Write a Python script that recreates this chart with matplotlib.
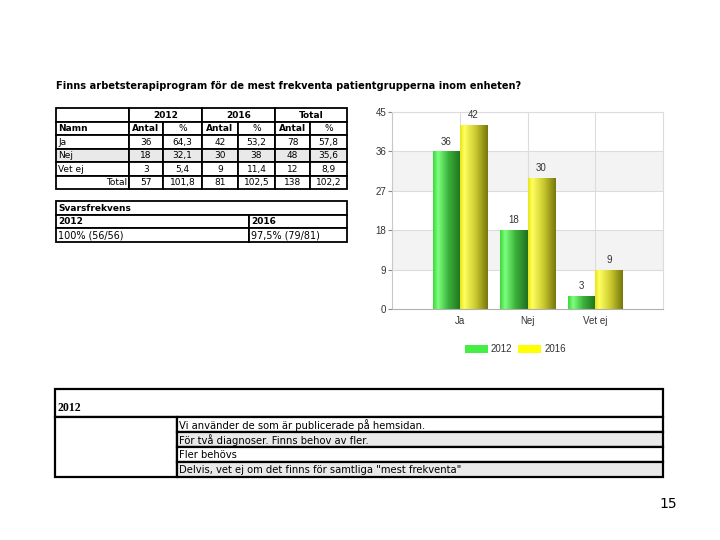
import matplotlib
matplotlib.use('Agg')
import matplotlib.pyplot as plt
from matplotlib.patches import Rectangle, Patch
from matplotlib.colors import LinearSegmentedColormap
import numpy as np

# --- data ---
title = 'Finns arbetsterapiprogram för de mest frekventa patientgrupperna inom enheten?'
categories = ['Ja', 'Nej', 'Vet ej']
years = ['2012', '2016']
antal_2012 = [36, 18, 3]
antal_2016 = [42, 30, 9]
pct_2012 = ['64,3', '32,1', '5,4']
pct_2016 = ['53,2', '38', '11,4']
antal_total = [78, 48, 12]
pct_total = ['57,8', '35,6', '8,9']
sum_row = ['57', '101,8', '81', '102,5', '138', '102,2']
svars_2012 = '100% (56/56)'
svars_2016 = '97,5% (79/81)'
comments_2012 = [
    'Vi använder de som är publicerade på hemsidan.',
    'För två diagnoser. Finns behov av fler.',
    'Fler behövs',
    'Delvis, vet ej om det finns för samtliga "mest frekventa"',
]
y_ticks = [0, 9, 18, 27, 36, 45]
page_number = '15'

TXT = dict(family='DejaVu Sans', fontsize=6.5, color='black')
GRAY_ROW = '#e9e9e9'

fig = plt.figure(figsize=(7.2, 5.4), dpi=100, facecolor='white')

# full-page axes in pixel coordinates for the html-like tables
page = fig.add_axes([0, 0, 1, 1])
page.set_xlim(0, 720)
page.set_ylim(540, 0)
page.axis('off')


def cell(x0, x1, y0, y1, text='', ha='center', bold=False, bg='white', lw=1.3, **kw):
    page.add_patch(Rectangle((x0, y0), x1 - x0, y1 - y0, facecolor=bg,
                             edgecolor='black', lw=lw))
    if not text:
        return
    tx = {'center': (x0 + x1) / 2, 'left': x0 + 2, 'right': x1 - 2}[ha]
    style = dict(TXT)
    style.update(kw)
    page.text(tx, (y0 + y1) / 2 + 0.5, text, ha=ha, va='center',
              fontweight='bold' if bold else 'normal', **style)


page.text(56, 86, title, fontsize=7.1, fontweight='bold', va='center',
          family='DejaVu Sans')

# main table
cols = [56, 129, 163, 202, 238, 275, 310, 347]
rows = [108 + 13.5 * i for i in range(7)]
cell(cols[0], cols[1], rows[0], rows[1])
for k, lab in enumerate(years + ['Total']):
    cell(cols[1 + 2 * k], cols[3 + 2 * k], rows[0], rows[1], lab, bold=True)
cell(cols[0], cols[1], rows[1], rows[2], 'Namn', ha='left', bold=True)
for k in range(3):
    cell(cols[1 + 2 * k], cols[2 + 2 * k], rows[1], rows[2], 'Antal', bold=True)
    cell(cols[2 + 2 * k], cols[3 + 2 * k], rows[1], rows[2], '%')

for i, name in enumerate(categories):
    bg = GRAY_ROW if i == 1 else 'white'
    vals = [antal_2012[i], pct_2012[i], antal_2016[i], pct_2016[i],
            antal_total[i], pct_total[i]]
    cell(cols[0], cols[1], rows[2 + i], rows[3 + i], name, ha='left', bg=bg)
    for j, v in enumerate(vals):
        cell(cols[1 + j], cols[2 + j], rows[2 + i], rows[3 + i], str(v), bg=bg)
cell(cols[0], cols[1], rows[5], rows[6], 'Total', ha='right')
for j, v in enumerate(sum_row):
    cell(cols[1 + j], cols[2 + j], rows[5], rows[6], v)

# response rate table
srows = [201 + 13.5 * i for i in range(4)]
cell(56, 347, srows[0], srows[1], 'Svarsfrekvens', ha='left', bold=True)
cell(56, 249, srows[1], srows[2], years[0], ha='left', bold=True)
cell(249, 347, srows[1], srows[2], years[1], ha='left', bold=True)
cell(56, 249, srows[2], srows[3], svars_2012, ha='left', fontsize=6.9)
cell(249, 347, srows[2], srows[3], svars_2016, ha='left', fontsize=6.9)

# comments table
page.add_patch(Rectangle((55, 389), 608, 28, facecolor='white', edgecolor='black', lw=1.6))
page.text(57, 411, years[0], family='Liberation Serif', fontweight='bold',
          fontsize=8.5, va='baseline')
crows = [417 + 15 * i for i in range(5)]
page.add_patch(Rectangle((55, crows[0]), 122, crows[-1] - crows[0],
                         facecolor='white', edgecolor='black', lw=1.6))
for i, c in enumerate(comments_2012):
    cell(177, 663, crows[i], crows[i + 1], c, ha='left', lw=1.6, fontsize=7.2,
         bg=GRAY_ROW if i % 2 else 'white')

page.text(668, 504, page_number, fontsize=10, ha='center', va='center',
          family='DejaVu Sans')

# --- bar chart ---
ax = fig.add_axes([392 / 720, (540 - 309) / 540, 271 / 720, 197 / 540])
ax.set_facecolor('white')
x = np.arange(1, len(categories) + 1)
w = 0.4

for lo in (9, 27):
    ax.axhspan(lo, lo + 9, color='#f3f3f3', zorder=0, lw=0)
for t in y_ticks[1:]:
    ax.axhline(t, color='#dcdcdc', lw=0.8, zorder=1)
for xi in x:
    ax.axvline(xi, color='#dcdcdc', lw=0.8, zorder=1)

grad_green = LinearSegmentedColormap.from_list(
    'g', [(0, '#3fd83f'), (0.18, '#7dff7d'), (0.55, '#3bb33b'), (1, '#1f701f')])
grad_yellow = LinearSegmentedColormap.from_list(
    'y', [(0, '#e6e61a'), (0.15, '#ffff60'), (0.55, '#cccc30'), (1, '#77770c')])
ramp = np.linspace(0, 1, 64).reshape(1, -1)

for vals, off, cmap in [(antal_2012, -w / 2, grad_green), (antal_2016, w / 2, grad_yellow)]:
    bars = ax.bar(x + off, vals, w, color='none', lw=0, zorder=2)
    for b, v in zip(bars, vals):
        im = ax.imshow(ramp, cmap=cmap, aspect='auto', zorder=2,
                       extent=(b.get_x(), b.get_x() + b.get_width(), 0, b.get_height()))
        im.set_clip_path(b)
        ax.annotate(str(v), (b.get_x() + b.get_width() / 2, v), xytext=(0, 3.5),
                    textcoords='offset points', ha='center', va='bottom',
                    fontsize=7, family='Liberation Sans', color='#333333')

ax.set_xlim(0, 4)
ax.set_ylim(0, 45)
ax.set_yticks(y_ticks)
ax.set_xticks(x)
ax.set_xticklabels(categories)
ax.tick_params(axis='y', length=3, color='#888888', labelsize=7, labelcolor='#333333', pad=1)
ax.tick_params(axis='x', length=0, labelsize=7, labelcolor='#333333', pad=5)
for lab in ax.get_xticklabels() + ax.get_yticklabels():
    lab.set_family('Liberation Sans')
for s in ax.spines.values():
    s.set_color('#dcdcdc')
    s.set_linewidth(0.8)
ax.spines['bottom'].set_color('#b0b0b0')
ax.spines['left'].set_color('#c8c8c8')

handles = [Patch(facecolor='#44ee44', label=years[0]),
           Patch(facecolor='#ffff00', label=years[1])]
leg = ax.legend(handles=handles, loc='center', bbox_to_anchor=(0.455, -0.205),
                ncol=2, frameon=False, handlelength=2.4, handleheight=0.9,
                columnspacing=0.6, handletextpad=0.3,
                prop={'family': 'Liberation Sans', 'size': 7})
for t in leg.get_texts():
    t.set_color('#333333')

fig.savefig('out.png', dpi=100, facecolor='white')
